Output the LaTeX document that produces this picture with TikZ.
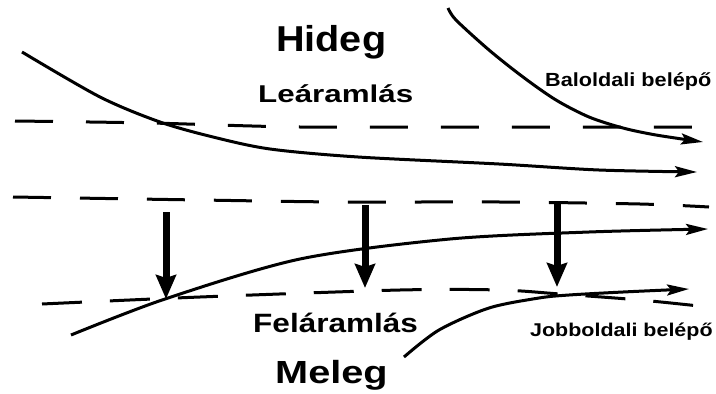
\documentclass[tikz,border=0pt]{standalone}
\usepackage{fontspec}
\setmainfont{Liberation Sans}
\usetikzlibrary{arrows.meta}
\begin{document}
\begin{tikzpicture}[x=1pt,y=-1pt,
  flow/.style={line width=3pt,-{Stealth[length=22pt,width=11pt,inset=4pt]}},
  dashline/.style={line width=3pt},
  sink/.style={line width=7pt,-{Stealth[length=24pt,width=20pt,inset=3pt]}},
  lbl/.style={anchor=base west, inner sep=0pt, font=\bfseries}]
\useasboundingbox[fill=white] (0,0) rectangle (716,394);

% dashed layer boundaries
\draw[dashline, dash pattern=on 38pt off 33pt] plot[smooth] coordinates {(15,121) (150,123) (300,127) (500,127) (698,127)};
\draw[dashline, dash pattern=on 38pt off 29pt] plot[smooth] coordinates {(13,197) (200,200) (340,202) (500,202) (640,204) (709,207)};
\draw[dashline, dash pattern=on 40pt off 28pt] plot[smooth] coordinates {(42,304) (200,297) (400,290) (500,290) (560,294) (640,300) (699,306)};

% solid streamlines
\coordinate (a0) at (22,52);  \coordinate (a1) at (697,172);
\coordinate (b0) at (448,8);  \coordinate (b1) at (703,142);
\coordinate (c0) at (71,335); \coordinate (c1) at (708,229);
\coordinate (d0) at (404,357); \coordinate (d1) at (689,289);

\draw[flow] plot[smooth] coordinates {(a0) (100,97) (160,122) (213,137) (270,149) (358,157) (499,164) (599,170) (a1)};
\draw[flow] plot[smooth] coordinates {(b0) (456,20) (489,50) (523,77) (556,100) (589,117) (623,128) (656,135) (b1)};
\draw[flow] plot[smooth] coordinates {(c0) (165,299) (300,259) (450,239) (589,232) (c1)};
\draw[flow] plot[smooth] coordinates {(d0) (439,330) (489,308) (539,298) (569,295) (623,292) (d1)};

% sinking arrows
\coordinate (s1a) at (166,212); \coordinate (s1b) at (166,299);
\coordinate (s2a) at (365,205); \coordinate (s2b) at (365,288);
\coordinate (s3a) at (557,204); \coordinate (s3b) at (557,287);
\draw[sink] (s1a) -- (s1b);
\draw[sink] (s2a) -- (s2b);
\draw[sink] (s3a) -- (s3b);

% labels
\node[lbl] (hideg) at (276,51) {\fontsize{36}{40}\selectfont\scalebox{1.10}[1]{Hideg}};
\node[lbl] (lea) at (258,102) {\fontsize{24.3}{28}\selectfont\scalebox{1.29}[1]{Leáramlás}};
\node[lbl] (bal) at (545,86) {\fontsize{19}{22}\selectfont\scalebox{1.14}[1]{Baloldali belépő}};
\node[lbl] (fel) at (253,332) {\fontsize{26.5}{30}\selectfont\scalebox{1.19}[1]{Feláramlás}};
\node[lbl] (mel) at (275,383) {\fontsize{32}{36}\selectfont\scalebox{1.24}[1]{Meleg}};
\node[lbl] (jobb) at (530,336) {\fontsize{18.5}{22}\selectfont\scalebox{1.16}[1]{Jobboldali belépő}};
\end{tikzpicture}
\end{document}
